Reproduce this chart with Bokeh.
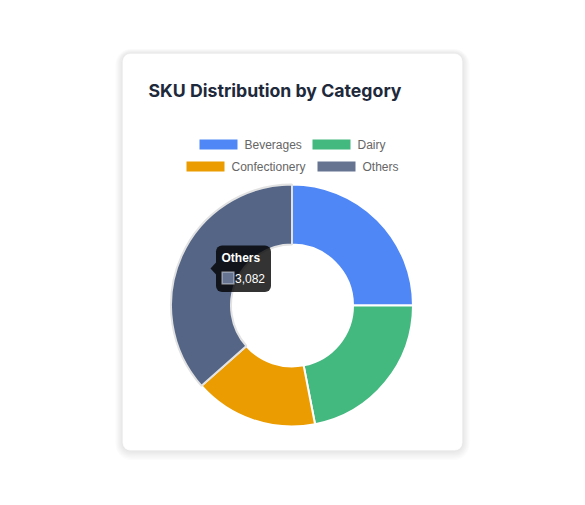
import math
from bokeh.plotting import figure
from bokeh.models import Range1d, BoxAnnotation, Label, PolyAnnotation, ColumnDataSource
from bokeh.core.properties import value
from bokeh.embed import file_html
from bokeh.resources import INLINE

# ---------------- data ----------------
categories = ["Beverages", "Dairy", "Confectionery", "Others"]
sku_counts = [2108, 1850, 1390, 3082]
colors = ["#4f87f6", "#43b87f", "#eb9c00", "#667491"]
hover_colors = ["#4f87f6", "#43b87f", "#eb9c00", "#546586"]
title_text = "SKU Distribution by Category"
tooltip_index = 3

W, H = 585, 505

def Y(y):  # screen y -> data y
    return H - y

p = figure(width=W, height=H, output_backend="svg", toolbar_location=None,
           x_range=Range1d(0, W), y_range=Range1d(0, H), min_border=0,
           x_axis_type=None, y_axis_type=None)
p.grid.visible = False
p.outline_line_color = None
p.background_fill_color = "white"
p.border_fill_color = "white"

# ---------------- card with shadow ----------------
cl, cr, ct, cb = 122, 462, 53, 450
for i in range(8, 0, -1):
    p.add_layout(BoxAnnotation(left=cl - i * 0.9, right=cr + i * 0.9,
                               top=Y(ct - i * 0.6), bottom=Y(cb + i * 1.2),
                               fill_color="black", fill_alpha=0.012,
                               line_color=None, border_radius=8 + i,
                               level="underlay", editable=False))
p.add_layout(BoxAnnotation(left=cl, right=cr, top=Y(ct), bottom=Y(cb),
                           fill_color="white", fill_alpha=1.0, line_color="#ececec",
                           line_width=1, border_radius=8, level="underlay"))

# ---------------- title ----------------
p.add_layout(Label(x=148, y=Y(90), text=title_text, text_font="Inter",
                   text_font_style="bold", text_font_size="17.7px",
                   text_color="#1e293b", text_baseline="alphabetic"))

# ---------------- legend ----------------
legend_rows = [[0, 1], [2, 3]]
legend_swatch_x = [[199, 312], [186, 317]]
legend_row_y = [144, 166]
sw_x, sw_y, tx_x, tx_y, sw_c, tx_t = [], [], [], [], [], []
for r, row in enumerate(legend_rows):
    for k, idx in enumerate(row):
        x0 = legend_swatch_x[r][k]
        sw_x.append(x0 + 19)
        sw_y.append(Y(legend_row_y[r]))
        tx_x.append(x0 + 45)
        tx_y.append(Y(legend_row_y[r]))
        sw_c.append(colors[idx])
        tx_t.append(categories[idx])
p.rect(x=sw_x, y=sw_y, width=38, height=10, fill_color=sw_c, line_color=None)
p.text(x=tx_x, y=tx_y, text=tx_t, text_font=value("Liberation Sans"),
       text_font_size="12px", text_color="#666666", text_baseline="middle")

# ---------------- donut ----------------
cx, cy = 291.5, Y(305)
total = float(sum(sku_counts))
starts, ends = [], []
acc = 0.0
for v in sku_counts:
    starts.append(math.pi / 2 - 2 * math.pi * acc / total)
    acc += v
    ends.append(math.pi / 2 - 2 * math.pi * acc / total)
fills = [hover_colors[i] if i == tooltip_index else colors[i] for i in range(len(categories))]
lines = ["#e2e2e2" if i == tooltip_index else "white" for i in range(len(categories))]
src = ColumnDataSource(dict(start=starts, end=ends, fill=fills, line=lines,
                            cat=categories, val=sku_counts))
p.annular_wedge(x=cx, y=cy, inner_radius=61, outer_radius=121,
                inner_radius_units="screen", outer_radius_units="screen",
                start_angle="start", end_angle="end", direction="clock",
                fill_color="fill", line_color="line", line_width=2, source=src)

# ---------------- tooltip ----------------
tl, tr_, tt, tb = 215.5, 270.5, 245, 291.5
p.add_layout(BoxAnnotation(left=tl, right=tr_, top=Y(tt), bottom=Y(tb),
                           fill_color="black", fill_alpha=0.8, line_color=None,
                           border_radius=6, editable=False))
p.add_layout(PolyAnnotation(xs=[tl, tl - 5.5, tl], ys=[Y(262), Y(268), Y(274)],
                            fill_color="black", fill_alpha=0.8, line_color=None))
p.add_layout(Label(x=221, y=Y(257.5), text=categories[tooltip_index],
                   text_font="Liberation Sans", text_font_style="bold",
                   text_font_size="12px", text_color="white",
                   text_baseline="alphabetic"))
p.add_layout(BoxAnnotation(left=221.5, right=233.5, top=Y(271.5), bottom=Y(283.5),
                           fill_color=colors[tooltip_index], fill_alpha=1.0,
                           line_color="white", line_width=2, editable=False))
p.add_layout(Label(x=234.5, y=Y(277.5), text=f"{sku_counts[tooltip_index]:,}",
                   text_font="Liberation Sans", text_font_size="12px",
                   text_color="white", text_baseline="alphabetic"))

open("out.html", "w").write(file_html(p, INLINE))
